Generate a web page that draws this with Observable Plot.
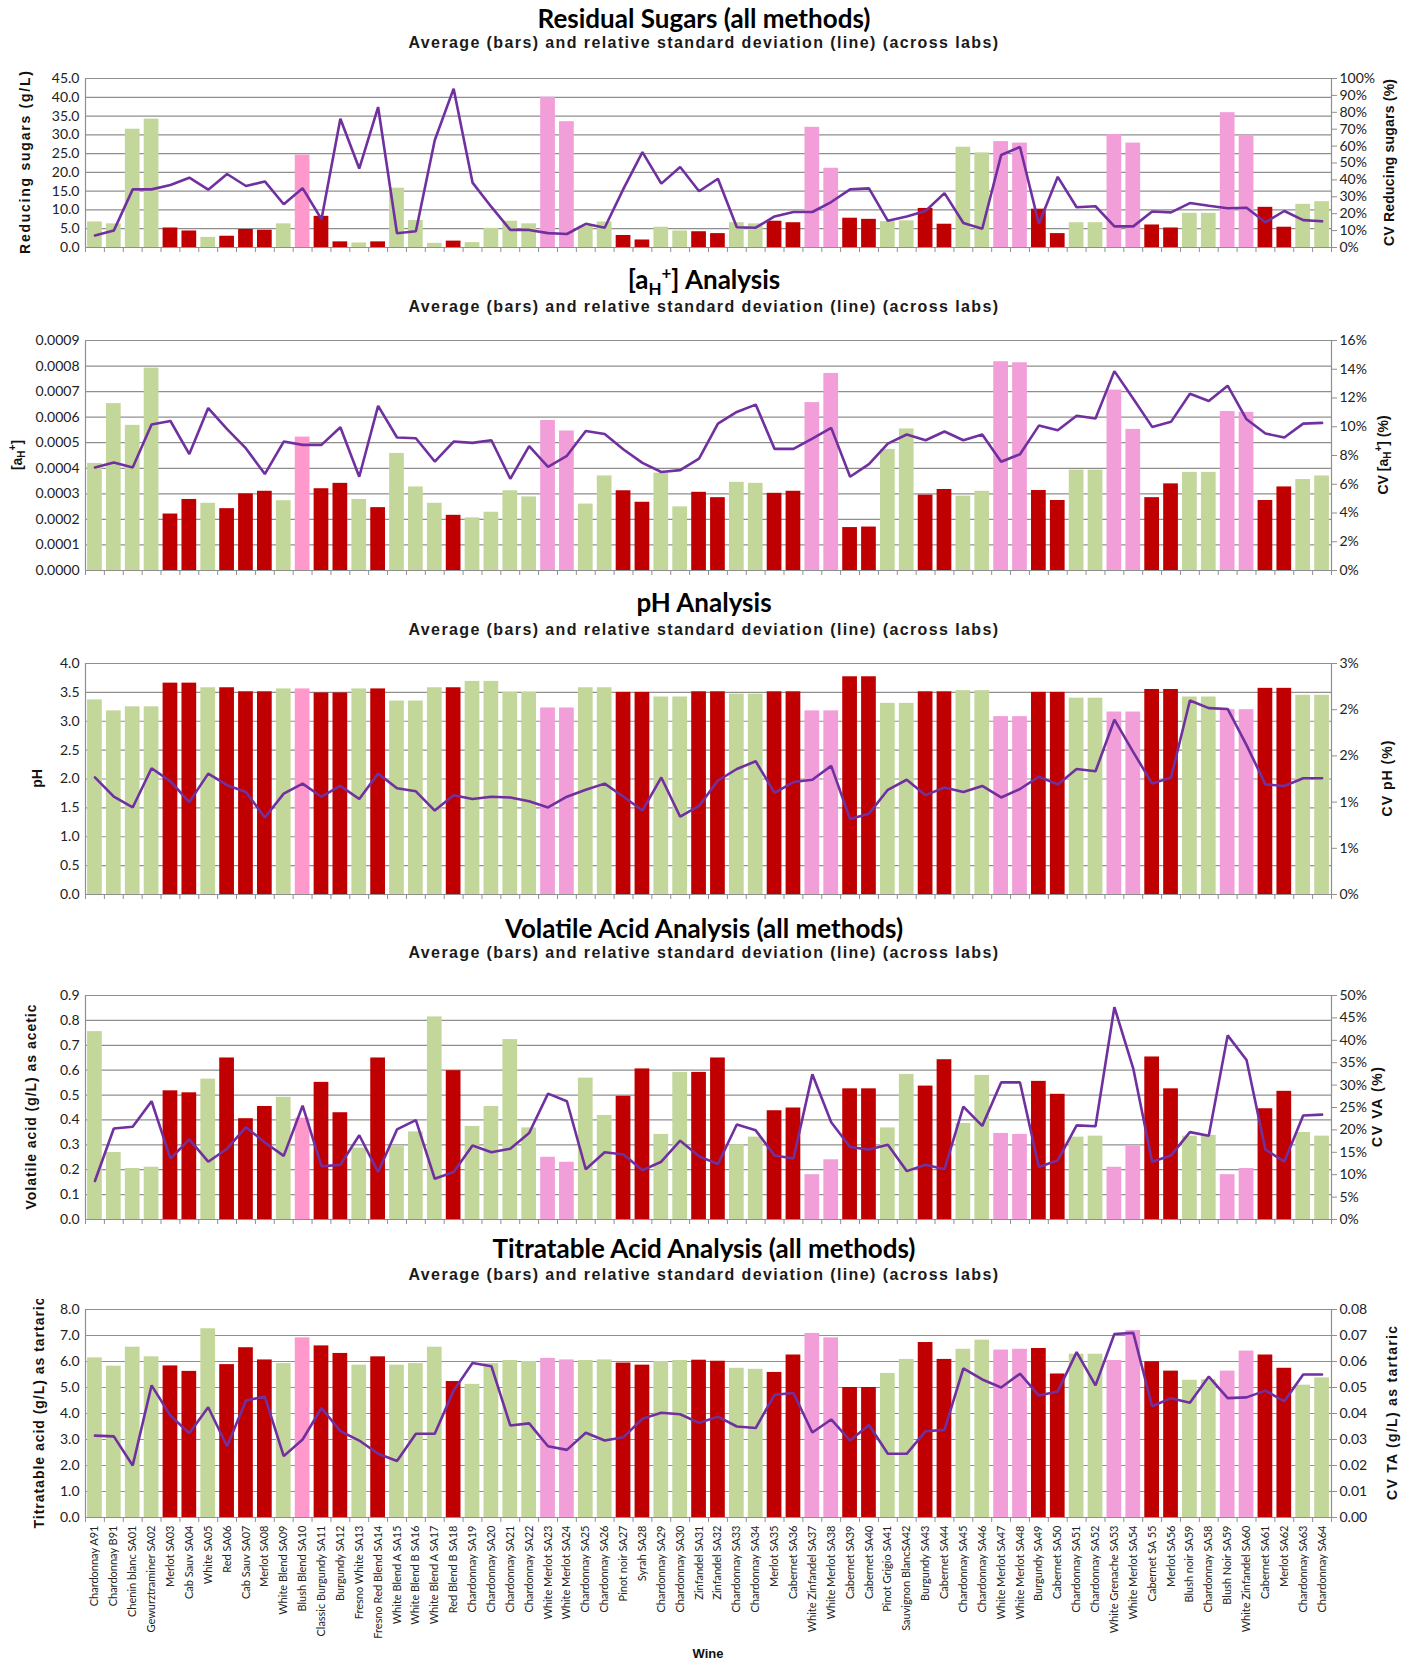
<!DOCTYPE html>
<html><head><meta charset="utf-8">
<script src="https://cdn.jsdelivr.net/npm/d3@7"></script>
<script src="https://cdn.jsdelivr.net/npm/@observablehq/plot@0.6"></script>
<style>
html,body{margin:0;padding:0;background:#fff;overflow:hidden;}
#page{position:relative;width:1408px;height:1663px;overflow:hidden;background:#fff;}
.title{position:absolute;left:0;width:1408px;text-align:center;font-family:Lato,"DejaVu Sans",sans-serif;font-weight:700;font-size:26px;line-height:30px;color:#000;}
.title sub,.title sup{font-size:17px;line-height:0;}
.sub{position:absolute;left:0;width:1408px;text-align:center;font-family:"Liberation Sans",Arial,sans-serif;font-weight:700;font-size:16px;line-height:18px;letter-spacing:1.4px;color:#1a1a1a;}
svg.panel{position:absolute;left:0;}
</style></head><body><div id="page"></div>
<script>
// ---------------- data ----------------
const wines = ["Chardonnay A91","Chardonnay B91","Chenin blanc SA01","Gewurztraminer SA02","Merlot SA03","Cab Sauv SA04","White SA05","Red SA06","Cab Sauv SA07","Merlot SA08","White Blend SA09","Blush Blend SA10","Classic Burgundy SA11","Burgundy SA12","Fresno White SA13","Fresno Red Blend SA14","White Blend A SA15","White Blend B SA16","White Blend A SA17","Red Blend B SA18","Chardonnay SA19","Chardonnay SA20","Chardonnay SA21","Chardonnay SA22","White Merlot SA23","White Merlot SA24","Chardonnay SA25","Chardonnay SA26","Pinot noir SA27","Syrah SA28","Chardonnay SA29","Chardonnay SA30","Zinfandel SA31","Zinfandel SA32","Chardonnay SA33","Chardonnay SA34","Merlot SA35","Cabernet SA36","White Zinfandel SA37","White Merlot SA38","Cabernet SA39","Cabernet SA40","Pinot Grigio SA41","Sauvignon BlancSA42","Burgundy SA43","Cabernet SA44","Chardonnay SA45","Chardonnay SA46","White Merlot SA47","White Merlot SA48","Burgundy SA49","Cabernet SA50","Chardonnay SA51","Chardonnay SA52","White Grenache SA53","White Merlot SA54","Cabernet SA 55","Merlot SA56","Blush noir SA59","Chardonnay SA58","Blush Noir SA59","White Zinfandel SA60","Cabernet SA61","Merlot SA62","Chardonnay SA63","Chardonnay SA64"];
// W = white, R = red, B = blush, P = blush blend
const wineTypes = ["W","W","W","W","R","R","W","R","R","R",
                   "W","P","R","R","W","R","W","W","W","R",
                   "W","W","W","W","B","B","W","W","R","R",
                   "W","W","R","R","W","W","R","R","B","B",
                   "R","R","W","W","R","R","W","W","B","B",
                   "R","R","W","W","B","B","R","R","W","W",
                   "B","B","R","R","W","W"];

const sugarAvg = [6.8,6.3,31.5,34.2,5.2,4.4,2.7,3.0,4.8,4.6,
                  6.3,24.6,8.3,1.5,1.2,1.5,15.8,7.2,1.1,1.7,
                  1.3,5.1,7.0,6.3,40.0,33.5,5.7,6.8,3.2,2.0,
                  5.4,4.4,4.2,3.7,6.6,6.3,7.0,6.6,32.0,21.1,
                  7.8,7.5,6.9,7.1,10.4,6.2,26.7,25.2,28.2,27.8,
                  10.2,3.7,6.6,6.6,30.1,27.8,6.0,5.2,9.1,9.1,
                  35.9,29.9,10.7,5.4,11.5,12.2];
const sugarCV = [7.1,10.0,34.4,34.4,37.0,41.3,34.2,43.5,36.4,39.1,
                 25.6,35.1,16.7,76.2,46.7,83.1,8.4,9.6,63.5,94.0,
                 38.4,24.0,10.4,10.4,8.5,8.0,14.0,11.7,34.8,56.4,
                 37.8,47.6,33.3,40.7,12.0,11.7,18.4,21.0,21.0,26.9,
                 34.4,35.0,15.8,18.4,21.6,32.2,14.5,11.1,54.7,59.5,
                 14.0,41.8,23.8,24.4,12.5,12.5,21.3,20.8,26.3,24.7,
                 23.2,23.5,14.9,21.6,16.2,15.5];

const ahAvg = [0.000419,0.000653,0.000568,0.000792,0.000221,0.000278,0.000263,0.000242,0.000300,0.000310,
               0.000273,0.000522,0.000320,0.000341,0.000278,0.000246,0.000458,0.000327,0.000263,0.000216,
               0.000206,0.000228,0.000312,0.000288,0.000587,0.000546,0.000260,0.000370,0.000312,0.000267,
               0.000381,0.000249,0.000306,0.000285,0.000345,0.000341,0.000302,0.000310,0.000657,0.000771,
               0.000168,0.000170,0.000474,0.000554,0.000295,0.000317,0.000291,0.000310,0.000817,0.000813,
               0.000313,0.000274,0.000393,0.000393,0.000706,0.000552,0.000285,0.000339,0.000384,0.000384,
               0.000622,0.000619,0.000274,0.000327,0.000356,0.000370];
const ahCV = [7.17,7.51,7.17,10.15,10.4,8.1,11.3,9.83,8.49,6.71,
              8.97,8.74,8.74,9.97,6.52,11.45,9.25,9.2,7.58,8.97,
              8.88,9.06,6.38,8.65,7.21,7.98,9.71,9.5,8.42,7.49,
              6.85,6.98,7.79,10.22,11.03,11.54,8.46,8.46,9.18,9.92,
              6.52,7.4,8.83,9.46,9.06,9.67,9.06,9.46,7.56,8.09,
              10.08,9.76,10.77,10.57,13.87,11.95,9.99,10.34,12.3,11.79,
              12.86,10.52,9.53,9.25,10.22,10.27];

const phAvg = [3.37,3.18,3.25,3.25,3.66,3.66,3.58,3.58,3.51,3.51,
               3.56,3.56,3.49,3.49,3.56,3.56,3.35,3.35,3.58,3.58,
               3.69,3.69,3.50,3.50,3.23,3.23,3.58,3.58,3.50,3.50,
               3.42,3.42,3.51,3.51,3.47,3.47,3.51,3.51,3.18,3.18,
               3.77,3.77,3.31,3.31,3.51,3.51,3.53,3.53,3.08,3.08,
               3.50,3.50,3.40,3.40,3.16,3.16,3.55,3.55,3.42,3.42,
               3.20,3.20,3.57,3.57,3.45,3.45];
const phCV = [1.52,1.27,1.13,1.64,1.47,1.20,1.57,1.42,1.33,1.00,
              1.31,1.44,1.27,1.41,1.24,1.57,1.38,1.34,1.09,1.29,
              1.24,1.27,1.26,1.21,1.13,1.27,1.36,1.44,1.27,1.09,
              1.52,1.01,1.15,1.48,1.63,1.73,1.32,1.46,1.49,1.67,
              0.98,1.05,1.36,1.49,1.29,1.39,1.33,1.41,1.26,1.37,
              1.53,1.43,1.63,1.60,2.27,1.85,1.44,1.52,2.52,2.42,
              2.41,1.94,1.43,1.41,1.51,1.51];

const vaAvg = [0.755,0.269,0.205,0.21,0.517,0.509,0.564,0.649,0.405,0.454,
               0.491,0.407,0.551,0.429,0.287,0.649,0.293,0.352,0.814,0.598,
               0.374,0.454,0.723,0.368,0.25,0.23,0.568,0.418,0.495,0.605,
               0.342,0.591,0.591,0.649,0.30,0.331,0.437,0.448,0.18,0.24,
               0.525,0.525,0.368,0.583,0.536,0.642,0.386,0.579,0.346,0.342,
               0.555,0.503,0.331,0.335,0.21,0.295,0.653,0.525,0.335,0.338,
               0.18,0.205,0.445,0.515,0.35,0.335];
const vaCV = [8.6,20.3,20.7,26.4,13.6,17.9,12.9,15.8,20.6,17.2,
              14.2,25.4,11.9,12.2,18.8,10.6,20.1,22.2,9.1,10.6,
              16.5,15.0,15.8,19.3,28.1,26.4,11.2,15.0,14.5,11.0,
              12.9,17.6,14.1,12.4,21.2,19.9,14.3,13.6,32.4,21.7,
              16.2,15.6,16.7,10.8,12.2,11.2,25.2,20.9,30.6,30.6,
              11.7,13.2,21.0,20.8,47.4,33.7,12.9,14.3,19.5,18.7,
              41.1,35.6,15.6,12.9,23.2,23.4];

const taAvg = [6.14,5.82,6.55,6.18,5.83,5.62,7.26,5.88,6.53,6.06,
               5.92,6.91,6.60,6.31,5.86,6.18,5.86,5.92,6.55,5.23,
               5.12,5.92,6.04,6.00,6.12,6.06,6.04,6.06,5.94,5.86,
               6.00,6.04,6.05,6.01,5.74,5.70,5.58,6.25,7.08,6.91,
               5.00,5.00,5.54,6.08,6.73,6.08,6.47,6.82,6.44,6.47,
               6.50,5.52,6.28,6.28,6.04,7.19,5.99,5.63,5.28,5.30,
               5.63,6.40,6.25,5.74,5.09,5.37];
const taCV = [0.0315,0.0312,0.0200,0.0508,0.0392,0.0324,0.0424,0.0274,0.0450,0.0465,
              0.0236,0.0300,0.0421,0.0332,0.0296,0.0245,0.0217,0.0322,0.0322,0.0488,
              0.0594,0.0582,0.0354,0.0362,0.0274,0.0260,0.0326,0.0296,0.0309,0.0380,
              0.0403,0.0397,0.0364,0.0388,0.0350,0.0344,0.0472,0.0479,0.0327,0.0377,
              0.0296,0.0356,0.0245,0.0245,0.0332,0.0337,0.0574,0.0531,0.0500,0.0553,
              0.0469,0.0485,0.0636,0.0508,0.0706,0.0710,0.0428,0.0459,0.0441,0.0542,
              0.0459,0.0462,0.0488,0.0447,0.0550,0.0550];

const subtitle = "Average (bars) and relative standard deviation (line) (across labs)";

// ---------------- drawing ----------------
const W = 1408, ML = 85, MR = 77, MT = 10, PAGE_H = 1663;
const N = wines.length;
const STEP = (W - ML - MR) / N;
const COLORS = {W: "#c4d79b", R: "#c00000", B: "#f29ed9", P: "#ff99cc"};
const GRID = "#8f8f8f";
const idx = d3.range(N);
const page = document.getElementById("page");

function richText(sel, parts) {
  let shift = 0;
  parts.forEach(([t, kind]) => {
    const target = kind === "sub" ? 4 : kind === "sup" ? -5 : 0;
    const ts = sel.append("tspan").attr("dy", target - shift).text(t);
    if (kind !== "n") ts.attr("font-size", 10);
    shift = target;
  });
}

function makePanel(cfg) {
  const h = cfg.bottom - cfg.top;
  const mb = cfg.last ? PAGE_H - cfg.bottom : 12;
  const k = cfg.yMax / cfg.cvMax;
  const rows = idx.map(i => ({i, type: wineTypes[i], avg: cfg.avg[i], cv: cfg.cv[i]}));
  const leftTicks = d3.range(cfg.nLeft + 1).map(j => j * cfg.yMax / cfg.nLeft);
  const rightTicks = d3.range(cfg.nRight + 1).map(j => j * cfg.yMax / cfg.nRight);
  const tickLen = 5 * cfg.yMax / h;
  const marks = [
    Plot.ruleY(leftTicks, {stroke: GRID, strokeWidth: 1.2}),
    Plot.barY(rows, {x: "i", y: "avg", fill: d => COLORS[d.type]}),
    Plot.line(rows, {x: "i", y: d => d.cv * k, stroke: "#7030a0", strokeWidth: 2.6, strokeLinejoin: "miter"}),
    Plot.ruleX([0], {dx: -STEP / 2, y1: 0, y2: cfg.yMax, stroke: GRID, strokeWidth: 1.2}),
    Plot.ruleX([N - 1], {dx: STEP / 2, y1: 0, y2: cfg.yMax, stroke: GRID, strokeWidth: 1.2}),
    Plot.ruleX(idx, {dx: -STEP / 2, y1: 0, y2: -tickLen, stroke: GRID}),
    Plot.ruleX([N - 1], {dx: STEP / 2, y1: 0, y2: -tickLen, stroke: GRID}),
    Plot.axisY(leftTicks, {anchor: "left", tickSize: 0, tickPadding: 6, tickFormat: cfg.leftFmt, label: null}),
    Plot.axisY(rightTicks, {anchor: "right", tickSize: 5, tickPadding: 3, stroke: GRID, tickFormat: v => cfg.rightFmt(v / k), label: null})
  ];
  if (cfg.last) {
    marks.push(Plot.axisX(idx, {anchor: "bottom", tickSize: 0, tickPadding: 8, tickRotate: -90,
      tickFormat: i => wines[i], fontSize: 11, label: null}));
  }
  const svgNode = Plot.plot({
    width: W, height: h + MT + mb,
    marginLeft: ML, marginRight: MR, marginTop: MT, marginBottom: mb,
    x: {type: "band", domain: idx, paddingInner: 0.22, paddingOuter: 0.11, axis: cfg.last ? undefined : null},
    y: {domain: [0, cfg.yMax]},
    color: {type: "identity"},
    style: {fontFamily: "Lato, 'DejaVu Sans', sans-serif", fontSize: "14px", color: "#222", background: "transparent"},
    marks
  });
  const svg = d3.select(svgNode).attr("class", "panel").style("top", (cfg.top - MT) + "px");
  const midY = MT + h / 2;
  const addLabel = (x, parts, len) => {
    const t = svg.append("text")
      .attr("transform", `translate(${x},${midY}) rotate(-90)`)
      .attr("text-anchor", "middle").attr("dominant-baseline", "middle")
      .attr("font-family", "'Liberation Sans', Arial, sans-serif")
      .attr("font-weight", 700).attr("font-size", 14).attr("fill", "#111");
    if (len) t.attr("textLength", len).attr("lengthAdjust", "spacing");
    richText(t, parts);
  };
  addLabel(cfg.lx, cfg.lLabel, cfg.lLen);
  addLabel(cfg.rx, cfg.rLabel, cfg.rLen);
  if (cfg.last) {
    svg.append("text").attr("x", ML + (W - ML - MR) / 2).attr("y", 1655 - (cfg.top - MT))
      .attr("text-anchor", "middle").attr("dominant-baseline", "middle")
      .attr("font-family", "'Liberation Sans', Arial, sans-serif").attr("font-weight", 700)
      .attr("font-size", 13).attr("fill", "#111").text("Wine");
  }
  page.appendChild(svgNode);

  const t = document.createElement("div");
  t.className = "title"; t.style.top = (cfg.titleY - 15) + "px"; t.innerHTML = cfg.title;
  page.appendChild(t);
  const s = document.createElement("div");
  s.className = "sub"; s.style.top = (cfg.subY - 9) + "px"; s.textContent = subtitle;
  page.appendChild(s);
}

const f1 = d3.format(".1f");
const panels = [
  {title: "Residual Sugars (all methods)", titleY: 18, subY: 43, top: 78, bottom: 247,
   avg: sugarAvg, cv: sugarCV, yMax: 45, nLeft: 9, leftFmt: f1, cvMax: 100, nRight: 10, rightFmt: v => Math.round(v) + "%",
   lx: 26, lLabel: [["Reducing sugars (g/L)", "n"]], lLen: 183,
   rx: 1390, rLabel: [["CV Reducing sugars (%)", "n"]], rLen: 167},
  {title: "[a<sub>H</sub><sup>+</sup>] Analysis", titleY: 279, subY: 307, top: 340, bottom: 570,
   avg: ahAvg, cv: ahCV, yMax: 0.0009, nLeft: 9, leftFmt: d3.format(".4f"), cvMax: 16, nRight: 8, rightFmt: v => Math.round(v) + "%",
   lx: 18, lLabel: [["[a", "n"], ["H", "sub"], ["+", "sup"], ["]", "n"]],
   rx: 1384, rLabel: [["CV [a", "n"], ["H", "sub"], ["+", "sup"], ["] (%)", "n"]]},
  {title: "pH Analysis", titleY: 602, subY: 630, top: 663, bottom: 894,
   avg: phAvg, cv: phCV, yMax: 4, nLeft: 8, leftFmt: f1, cvMax: 3, nRight: 5, rightFmt: v => Math.round(v) + "%",
   lx: 38, lLabel: [["pH", "n"]],
   rx: 1388, rLabel: [["CV pH (%)", "n"]], rLen: 76},
  {title: "Volatile Acid Analysis (all methods)", titleY: 928, subY: 953, top: 995, bottom: 1219,
   avg: vaAvg, cv: vaCV, yMax: 0.9, nLeft: 9, leftFmt: f1, cvMax: 50, nRight: 10, rightFmt: v => Math.round(v) + "%",
   lx: 32, lLabel: [["Volatile acid (g/L) as acetic", "n"]], lLen: 205,
   rx: 1378, rLabel: [["CV VA (%)", "n"]], rLen: 80},
  {title: "Titratable Acid Analysis (all methods)", titleY: 1248, subY: 1275, top: 1309, bottom: 1517, last: true,
   avg: taAvg, cv: taCV, yMax: 8, nLeft: 8, leftFmt: f1, cvMax: 0.08, nRight: 8, rightFmt: d3.format(".2f"),
   lx: 40, lLabel: [["Titratable acid (g/L) as tartaric", "n"]], lLen: 231,
   rx: 1393, rLabel: [["CV TA (g/L) as tartaric", "n"]], rLen: 174}
];
panels.forEach(makePanel);
</script>
</body></html>
